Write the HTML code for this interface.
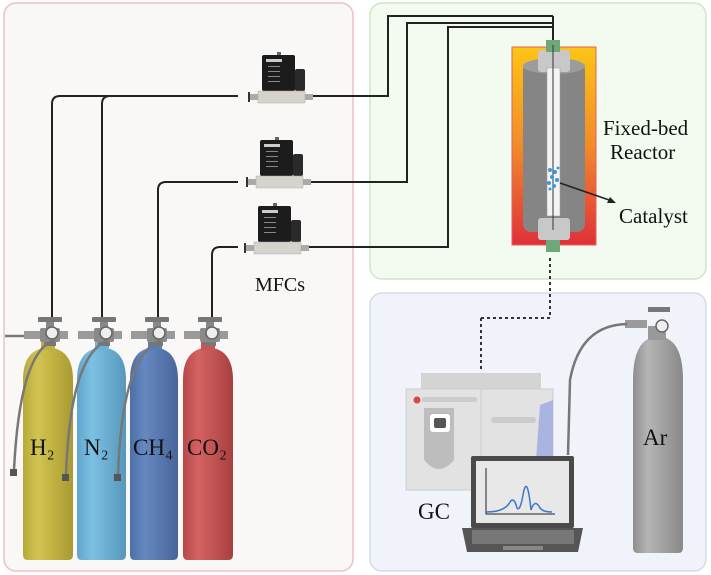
<!DOCTYPE html>
<html><head><meta charset="utf-8"><style>
html,body{margin:0;padding:0;background:#fff;}
svg{display:block;}
text{font-family:"Liberation Serif",serif;fill:#111;}
</style></head><body>
<svg width="711" height="575" viewBox="0 0 711 575" xmlns="http://www.w3.org/2000/svg">
<defs>
<linearGradient id="heat" x1="0" y1="0" x2="0" y2="1"><stop offset="0" stop-color="#fbc515"/><stop offset="0.5" stop-color="#f28a2a"/><stop offset="1" stop-color="#e0303a"/></linearGradient>
<linearGradient id="yel" x1="0" x2="1"><stop offset="0" stop-color="#b8aa3a"/><stop offset="0.3" stop-color="#d2c450"/><stop offset="1" stop-color="#a89a30"/></linearGradient>
<linearGradient id="lb" x1="0" x2="1"><stop offset="0" stop-color="#5fa6cc"/><stop offset="0.3" stop-color="#7cc0e2"/><stop offset="1" stop-color="#5698bd"/></linearGradient>
<linearGradient id="db" x1="0" x2="1"><stop offset="0" stop-color="#4d6fa8"/><stop offset="0.3" stop-color="#6688c0"/><stop offset="1" stop-color="#48659a"/></linearGradient>
<linearGradient id="rd" x1="0" x2="1"><stop offset="0" stop-color="#b84848"/><stop offset="0.3" stop-color="#d56262"/><stop offset="1" stop-color="#a84040"/></linearGradient>
<linearGradient id="gr" x1="0" x2="1"><stop offset="0" stop-color="#8e8e8e"/><stop offset="0.3" stop-color="#b5b5b5"/><stop offset="1" stop-color="#888"/></linearGradient>
<g id="mfc">
<rect x="-3" y="0" width="4" height="3" fill="#666"/>
<rect x="-18" y="3" width="33" height="36" rx="2" fill="#1c1c1c"/>
<rect x="-14" y="7" width="16" height="3" fill="#ccc"/>
<g fill="#888"><rect x="-12" y="14" width="12" height="1"/><rect x="-12" y="19" width="12" height="1"/><rect x="-12" y="24" width="12" height="1"/><rect x="-12" y="29" width="12" height="1"/></g>
<rect x="15" y="17" width="10" height="22" rx="2" fill="#2a2a2a"/>
<rect x="-22" y="39" width="47" height="12" fill="#d6d2cc" stroke="#b0aca6" stroke-width="0.5"/>
<rect x="-30" y="42" width="8" height="6" fill="#aaa"/><rect x="-32" y="40" width="2" height="10" fill="#333"/>
<rect x="25" y="42" width="8" height="6" fill="#aaa"/>
</g>
<g id="valve">
<rect x="-12" y="0" width="24" height="5" rx="1" fill="#777"/>
<rect x="-4" y="5" width="8" height="6" fill="#888"/>
<rect x="-10" y="11" width="20" height="14" rx="2" fill="#8a8a8a"/>
<rect x="-26" y="14" width="16" height="8" fill="#9a9a9a"/>
<rect x="10" y="14" width="8" height="8" fill="#9a9a9a"/>
<circle cx="2" cy="16" r="6" fill="#eee" stroke="#666" stroke-width="1.5"/>
<rect x="-6" y="25" width="12" height="4" fill="#777"/>
</g>
</defs>
<rect width="711" height="575" fill="#fff"/>
<rect x="4" y="3" width="349" height="568" rx="12" fill="#faf8f7" stroke="#efc0c4" stroke-width="1.5"/>
<rect x="370" y="3" width="336" height="276" rx="12" fill="#f3faf0" stroke="#cfe6c8" stroke-width="1.5"/>
<rect x="370" y="293" width="336" height="278" rx="12" fill="#f0f4fa" stroke="#d0dbe8" stroke-width="1.5"/>

<g fill="none" stroke="#222" stroke-width="2">
<path d="M52 320 V104 Q52 96 60 96 H238"/>
<path d="M102 320 V104 Q102 96 110 96"/>
<path d="M158 320 V190 Q158 182 166 182 H238"/>
<path d="M212 320 V255 Q212 247 220 247 H238"/>
<path d="M305 96 H388 V16 H553"/>
<path d="M305 182 H407 V23 H553"/>
<path d="M305 247 H448 V27 H553"/>
<path d="M553 16 V45"/>
</g>
<line x1="550" y1="258" x2="550" y2="318" stroke="#333" stroke-width="2" stroke-dasharray="3,3"/>
<line x1="550" y1="318" x2="481" y2="318" stroke="#333" stroke-width="2" stroke-dasharray="3,3"/>
<line x1="481" y1="318" x2="481" y2="372" stroke="#333" stroke-width="2" stroke-dasharray="3,3"/>

<use href="#mfc" x="280" y="52"/>
<use href="#mfc" x="278" y="137"/>
<use href="#mfc" x="276" y="203"/>
<text x="255" y="291" font-size="20">MFCs</text>

<rect x="512" y="47" width="84" height="198" fill="url(#heat)" stroke="#e06060" stroke-width="1"/>
<rect x="523" y="62" width="62" height="170" rx="8" fill="#858585"/>
<ellipse cx="554" cy="66" rx="31" ry="8" fill="#9c9c9c"/>
<rect x="538" y="50" width="32" height="22" rx="3" fill="#c8c8c8"/>
<rect x="538" y="218" width="32" height="22" rx="3" fill="#c8c8c8"/>
<rect x="546" y="40" width="14" height="12" fill="#6fa77a"/>
<rect x="546" y="240" width="14" height="12" fill="#6fa77a"/>
<rect x="547" y="68" width="13" height="148" fill="#f4f4f4" stroke="#999" stroke-width="0.5"/>
<line x1="553" y1="45" x2="553" y2="230" stroke="#333" stroke-width="1"/>
<g fill="#3a9ad8"><circle cx="550" cy="170" r="2"/><circle cx="555" cy="172" r="2"/><circle cx="552" cy="177" r="2"/><circle cx="557" cy="180" r="2"/><circle cx="549" cy="183" r="2"/><circle cx="554" cy="186" r="2"/><circle cx="558" cy="168" r="1.5"/><circle cx="550" cy="189" r="1.5"/></g>
<line x1="560" y1="183" x2="612" y2="201" stroke="#222" stroke-width="1.5"/>
<polygon points="616,203 607,203 610,197" fill="#222"/>
<text x="603" y="135" font-size="21">Fixed-bed</text>
<text x="610" y="159" font-size="21">Reactor</text>
<text x="619" y="223" font-size="21">Catalyst</text>

<g>
<path d="M23 380 Q23 352 43 348 L53 348 Q73 352 73 380 V555 Q73 560 68 560 H28 Q23 560 23 555 Z" fill="url(#yel)"/>
<path d="M77 380 Q77 352 97 348 L107 348 Q126 352 126 380 V555 Q126 560 121 560 H82 Q77 560 77 555 Z" fill="url(#lb)"/>
<path d="M130 380 Q130 352 149 348 L159 348 Q178 352 178 380 V555 Q178 560 173 560 H135 Q130 560 130 555 Z" fill="url(#db)"/>
<path d="M183 380 Q183 352 203 348 L213 348 Q233 352 233 380 V555 Q233 560 228 560 H188 Q183 560 183 555 Z" fill="url(#rd)"/>
<rect x="41" y="340" width="14" height="10" fill="#c0b040"/>
<rect x="95" y="340" width="14" height="10" fill="#6cb2d8"/>
<rect x="148" y="340" width="14" height="10" fill="#5a7cb4"/>
<rect x="201" y="340" width="14" height="10" fill="#c85454"/>
</g>
<use href="#valve" x="50" y="317"/>
<use href="#valve" x="104" y="317"/>
<use href="#valve" x="157" y="317"/>
<use href="#valve" x="210" y="317"/>
<g fill="none" stroke="#777" stroke-width="2.5">
<path d="M5 336 H24"/>
<path d="M55 340 Q20 350 14 470"/>
<path d="M108 340 Q70 355 66 475"/>
<path d="M161 340 Q122 355 118 475"/>
</g>
<rect x="10" y="469" width="7" height="7" fill="#555"/>
<rect x="62" y="474" width="7" height="7" fill="#555"/>
<rect x="114" y="474" width="7" height="7" fill="#555"/>
<text x="30" y="455" font-size="23">H₂</text>
<text x="84" y="455" font-size="23">N₂</text>
<text x="133" y="455" font-size="23">CH₄</text>
<text x="187" y="455" font-size="23">CO₂</text>

<rect x="421" y="373" width="120" height="17" fill="#d4d4d4"/>
<rect x="406" y="389" width="147" height="101" fill="#e2e2e2" stroke="#ccc"/>
<line x1="481" y1="389" x2="481" y2="490" stroke="#ccc"/>
<circle cx="417" cy="400" r="3.5" fill="#d44"/>
<rect x="422" y="397" width="55" height="5" rx="2" fill="#ccc"/>
<path d="M424 408 H454 V460 Q439 478 424 460 Z" fill="#bdbdbd"/>
<rect x="430" y="414" width="20" height="18" rx="3" fill="#fff"/>
<rect x="434" y="418" width="12" height="10" rx="2" fill="#555"/>
<rect x="491" y="417" width="45" height="6" rx="3" fill="#ccc"/>
<polygon points="540,405 553,400 553,460 536,460" fill="#aab4e0"/>
<text x="418" y="519" font-size="23" font-family="Liberation Sans,sans-serif">GC</text>
<rect x="471" y="456" width="103" height="72" rx="2" fill="#4a4a4a"/>
<rect x="476" y="461" width="93" height="62" fill="#e8e8e8"/>
<path d="M486 468 V514 H555" fill="none" stroke="#222" stroke-width="1"/>
<path d="M486 512 Q505 512 510 502 Q514 496 517 508 Q520 512 523 495 Q527 472 531 510 Q535 498 540 508 Q543 512 552 512" fill="none" stroke="#3a78c8" stroke-width="1.5"/>
<path d="M462 528 H583 L578 552 H467 Z" fill="#555"/>
<rect x="472" y="530" width="102" height="14" fill="#777"/>
<rect x="503" y="546" width="40" height="4" fill="#888"/>
<path d="M633 380 Q633 345 650 338 H666 Q683 345 683 380 V548 Q683 553 678 553 H638 Q633 553 633 548 Z" fill="url(#gr)"/>
<rect x="648" y="326" width="18" height="14" fill="#999"/>
<rect x="648" y="307" width="22" height="5" fill="#777"/>
<circle cx="662" cy="326" r="6" fill="#eee" stroke="#666" stroke-width="1.5"/>
<rect x="625" y="320" width="22" height="8" fill="#9a9a9a"/>
<path d="M627 324 Q580 325 570 380 L568 455" fill="none" stroke="#777" stroke-width="2.5"/>
<text x="643" y="445" font-size="23">Ar</text>
</svg>
</body></html>
